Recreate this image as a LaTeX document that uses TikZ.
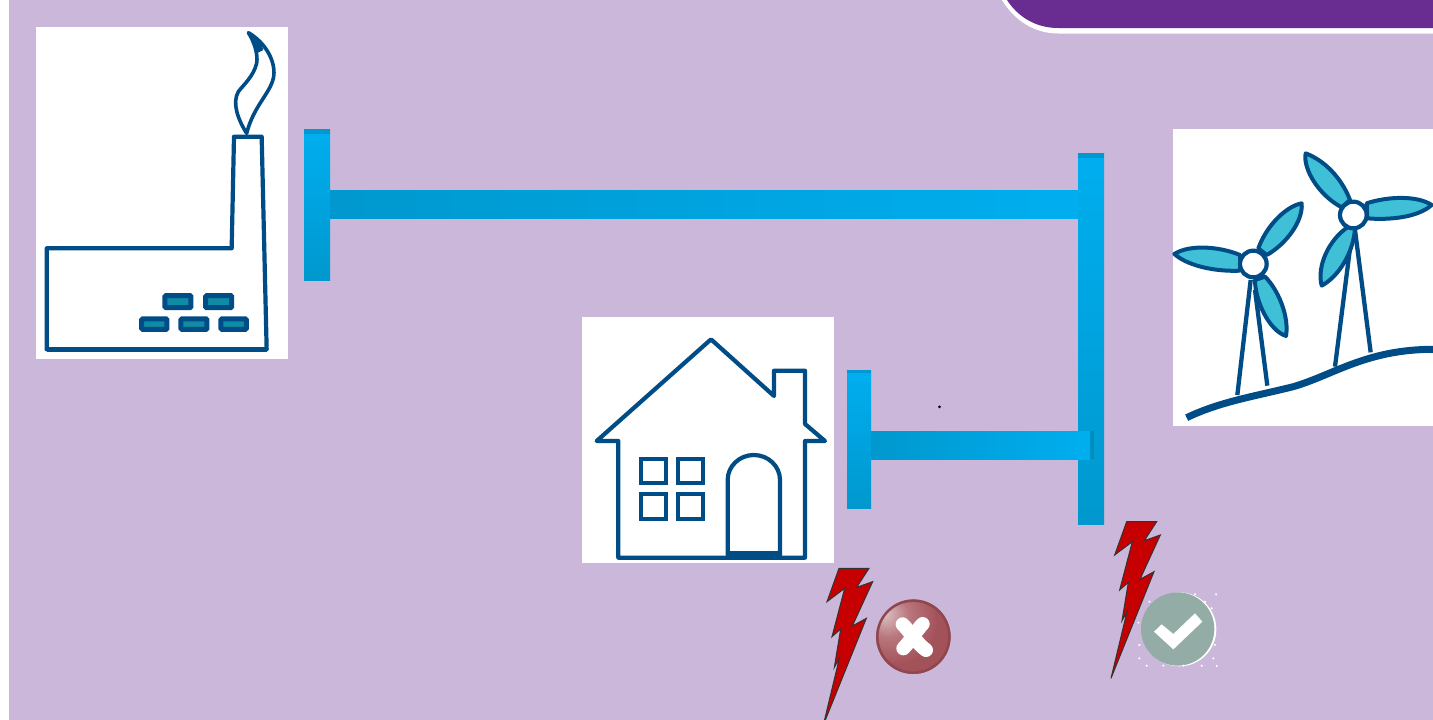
\documentclass[tikz,border=0pt]{standalone}
\definecolor{bgl}{HTML}{CBB7D9}
\definecolor{hdr}{HTML}{692C91}
\definecolor{ink}{HTML}{004C87}
\definecolor{blade}{HTML}{40C0D6}
\definecolor{barhi}{HTML}{00AEEF}
\definecolor{barlo}{HTML}{0098CE}
\definecolor{boltred}{HTML}{C60000}
\definecolor{okgreen}{HTML}{93ADA6}
\definecolor{brickfill}{HTML}{0F8BA6}
\definecolor{crosslight}{HTML}{DCC4C6}
\definecolor{crossmid}{HTML}{B9777D}
\definecolor{crossdark}{HTML}{A4525A}
\definecolor{crossedge}{HTML}{8F464E}
\pgfdeclareradialshading{crossball}{\pgfpoint{-20bp}{16bp}}{
  color(0bp)=(crosslight);
  color(14bp)=(crossmid);
  color(30bp)=(crossdark);
  color(100bp)=(crossdark)}
\tikzset{
  x=1pt,y=-1pt,
  panel/.style={fill=white,draw=none},
  barv/.style={top color=barhi,bottom color=barlo,draw=none},
  barh/.style={left color=barlo,right color=barhi,draw=none},
  inkline/.style={draw=ink,line width=4.2pt,line join=round,line cap=round,fill=none},
  towerline/.style={draw=ink,line width=4.3pt},
  bladeshape/.style={draw=ink,line width=4pt,fill=blade,line join=round},
  hubshape/.style={draw=ink,line width=4.2pt,fill=white},
  brick/.style={draw=ink,line width=5pt,fill=brickfill,rounded corners=1pt},
  pane/.style={draw=ink,line width=4.2pt,fill=white},
  bolt/.style={fill=boltred,draw=black!80,line width=1pt,line join=miter},
  zoomA/.style={shift={(#1)},scale=0.33333},
}
\newcommand{\boltpath}{(117,175) -- (207,175) -- (170,232) -- (218,215) -- (157,348) -- (199,325)
  -- (70,645) -- (118,445) -- (103,472) -- (122,357) -- (96,380) -- (134,235) -- (81,275) -- cycle}
\begin{document}
\begin{tikzpicture}
\useasboundingbox (0,0) rectangle (1433,720);
\fill[white] (0,0) rectangle (1433,720);
\fill[bgl] (9,0) rectangle (1433,720);
% header tab
\path[fill=white] (1002,0) .. controls (1014,20) and (1034,33.5) .. (1058,33.5) -- (1433,33.5) -- (1433,0) -- cycle;
\path[fill=hdr] (1007,0) .. controls (1018,17) and (1036,28) .. (1058,28) -- (1433,28) -- (1433,0) -- cycle;
% panels
\path[panel] (36,27) rectangle (288,359);
\path[panel] (582,317) rectangle (834,563);
\path[panel] (1173,129) rectangle (1433,426);
% factory
\begin{scope}[zoomA={30,20}]
  \draw[inkline] (50,685) -- (605,685) -- (612,350) -- (695,350) -- (710,988) -- (50,988) -- cycle;
  \draw[draw=ink,line width=5pt] (50,988) -- (710,988);
  \draw[inkline,line width=3.6pt] (650,340) .. controls (625,300) and (605,250) .. (625,215)
     .. controls (640,195) and (670,170) .. (680,130)
     .. controls (685,100) and (670,60) .. (655,38)
     .. controls (710,70) and (740,130) .. (730,175)
     .. controls (720,220) and (670,260) .. (650,340) -- cycle;
  \fill[ink] (655,38) .. controls (680,52) and (695,70) .. (700,90) -- (680,100) .. controls (675,75) and (665,55) .. (655,38) -- cycle;
  \foreach \ax/\ay/\bx/\by in {405/827/483/863, 527/827/605/863, 335/897/411/928, 453/897/531/928, 573/897/649/928}{
    \draw[brick] (\ax,\ay) rectangle (\bx,\by);
  }
\end{scope}
% house
\begin{scope}[zoomA={575,310}]
  \draw[inkline] (65,393) -- (408,88) -- (597,258) -- (597,182) -- (690,182) -- (690,342) -- (750,393) -- (690,393) -- (690,743) -- (130,743) -- (130,393) -- cycle;
  \draw[inkline] (458,735) -- (458,510) arc[start angle=180,end angle=360,x radius=78.5,y radius=75] -- (615,735);
  \draw[draw=ink,line width=6pt] (458,733) -- (615,733);
  \foreach \ax/\ay in {198/446, 310/446, 198/553, 310/553}{
    \draw[pane] (\ax,\ay) rectangle ++(74,74);
  }
\end{scope}
% turbines
\begin{scope}[zoomA={1160,120}]
  \draw[towerline] (272,480) -- (232,825);
  \draw[towerline] (285,510) -- (322,797);
  \draw[towerline] (577,330) -- (525,740);
  \draw[towerline] (585,330) -- (632,697);
  \draw[draw=ink,line width=7pt] (80,893) .. controls (180,845) and (280,830) .. (400,800)
     .. controls (520,765) and (620,688) .. (819,688);
  \path[bladeshape] (240,405) .. controls (180,380) and (90,372) .. (43,402) .. controls (90,443) and (180,455) .. (240,452) -- cycle;
  \path[bladeshape] (295,385) .. controls (320,315) and (380,258) .. (425,250) .. controls (430,305) and (375,375) .. (320,405) -- cycle;
  \path[bladeshape] (285,480) .. controls (285,540) and (325,630) .. (378,648) .. controls (388,590) and (355,510) .. (315,470) -- cycle;
  \draw[hubshape] (280,432) circle[radius=40];
  \path[bladeshape] (570,240) .. controls (545,175) and (495,122) .. (437,100) .. controls (428,145) and (475,225) .. (545,262) -- cycle;
  \path[bladeshape] (620,250) .. controls (680,230) and (770,225) .. (815,255) .. controls (770,295) and (680,300) .. (622,295) -- cycle;
  \path[bladeshape] (565,320) .. controls (505,360) and (470,440) .. (485,497) .. controls (535,470) and (580,400) .. (585,325) -- cycle;
  \draw[hubshape] (580,285) circle[radius=40];
\end{scope}
% bars
\path[barh] (330,190) rectangle (1079,218);
\path[barv] (304,129) rectangle (330,280);
\fill[barlo] (304,129) rectangle (330,134);
\path[barv] (1078,153) rectangle (1104,524);
\fill[barlo] (1078,153) rectangle (1104,158);
\path[barv] (847,370) rectangle (871,508);
\fill[barlo] (847,370) rectangle (871,373);
\fill[barlo!92!black] (1090,431) rectangle (1094,459);
\path[barh] (871,431) rectangle (1090,459);
% speck
\fill[black] (939.5,406.8) circle[radius=1.5];
\begin{scope}[zoomA={800,510}]
  % cross
  \shade[shading=crossball] (340,380) circle[radius=112];
  \draw[draw=crossedge,line width=2.5pt] (340,380) circle[radius=108];
  \draw[white,line width=14pt,line cap=round] (308,343) .. controls (330,365) and (350,400) .. (378,420);
  \draw[white,line width=14pt,line cap=round] (368,342) .. controls (350,360) and (330,395) .. (310,415);
  % check
  \fill[white] (1138,358) circle[radius=111];
  \fill[okgreen] (1133,357) circle[radius=110];
  \fill[white] (1062,365) -- (1085,343) -- (1120,372) -- (1185,310) -- (1207,335) -- (1120,418) -- cycle;
  \foreach \sx/\sy in {1020/253,1048/275,1185/253,1248/253,1215/275,1015/338,1018/405,1018/445,1040/467,1090/467,1150/467,1205/467,1250/468,1240/445,1245/405,1235/295}{
    \fill[white] (\sx,\sy) circle[radius=3.5];
  }
  % bolts
  \path[bolt] \boltpath;
  \begin{scope}[shift={(863,-140)}]
    \path[bolt] \boltpath;
  \end{scope}
\end{scope}
\end{tikzpicture}
\end{document}
